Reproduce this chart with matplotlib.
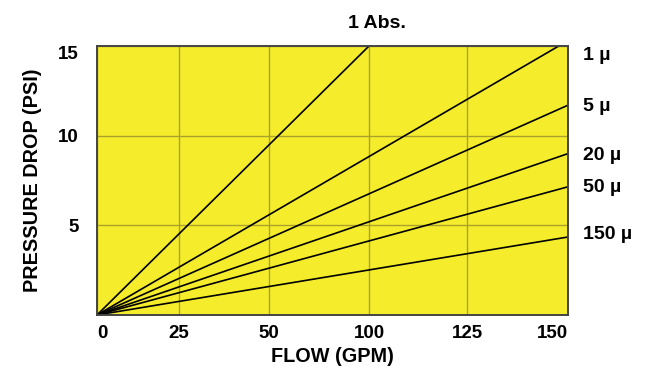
import matplotlib
matplotlib.use('Agg')
import matplotlib.pyplot as plt
import numpy as np

plt.rcParams['font.family'] = ['Liberation Sans', 'DejaVu Sans']
plt.rcParams['font.weight'] = 'bold'

# data: pressure drop (PSI) at the end of each straight line
flow_ticks = [0, 25, 50, 100, 125, 150]
psi_ticks = [5, 10, 15]
series_names = ['1 \u00b5', '5 \u00b5', '20 \u00b5', '50 \u00b5', '150 \u00b5']
series_psi_at_150 = [15.3, 11.7, 9.0, 7.15, 4.35]
abs_name = '1 Abs.'
abs_flow_at_15 = 100
# right-hand label heights (PSI)
label_psi = [14.45, 11.6, 8.9, 7.1, 4.5]

# the printed flow axis is not evenly spaced: piecewise scale matching the grid
grid_px = [0, 82, 172, 272, 370, 471]

def fwd(x):
    return np.interp(x, flow_ticks, grid_px, left=-1e3, right=1e3)

def inv(p):
    return np.interp(p, grid_px, flow_ticks)

fig = plt.figure(figsize=(6.5, 3.81), dpi=100)
ax = fig.add_axes([97/650, 66/381, 471/650, 269/381])
ax.set_facecolor('#f5ed2b')
ax.set_xscale('function', functions=(fwd, inv))
ax.set_xlim(0, 150)
ax.set_ylim(0, 15)

for yv, name in zip(series_psi_at_150, series_names):
    ax.plot([0, 150], [0, yv], color='black', lw=1.2, solid_capstyle='butt')
ax.plot([0, abs_flow_at_15], [0, 15], color='black', lw=1.2)

ax.set_xticks(flow_ticks)
ax.set_xticklabels([str(v) for v in flow_ticks])
ax.set_yticks(psi_ticks)
ax.set_yticklabels([str(v) for v in psi_ticks])
ax.tick_params(length=0, labelsize=13.5)
ax.tick_params(axis='x', pad=7)
ax.tick_params(axis='y', pad=13)
ax.get_yticklabels()[-1].set_va('top')
ax.get_xticklabels()[0].set_ha('left')
ax.get_xticklabels()[-1].set_ha('right')

ax.grid(True, color='#a9a12a', lw=1.0)
for s in ax.spines.values():
    s.set_color('#444444')
    s.set_linewidth(1.4)

ax.set_xlabel('FLOW (GPM)', fontsize=14.3, fontweight='bold', labelpad=4)
ax.set_ylabel('PRESSURE DROP (PSI)', fontsize=14.3, fontweight='bold', labelpad=12)

for yl, name in zip(label_psi, series_names):
    ax.annotate(name, xy=(1, yl), xycoords=('axes fraction', 'data'),
                xytext=(11, 0), textcoords='offset points',
                ha='left', va='center', fontsize=14, fontweight='bold')
ax.annotate(abs_name, xy=(abs_flow_at_15, 15), xycoords='data',
            xytext=(6, 16), textcoords='offset points',
            ha='center', va='center', fontsize=14, fontweight='bold')

fig.savefig('out.png', dpi=100)
